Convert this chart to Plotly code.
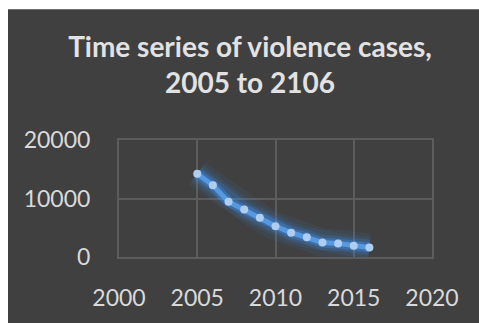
import plotly.graph_objects as go

years = [2005, 2006, 2007, 2008, 2009, 2010, 2011, 2012, 2013, 2014, 2015, 2016]
cases = [14250, 12250, 9450, 8100, 6720, 5250, 4150, 3380, 2480, 2320, 1920, 1620]

x_ticks = [2000, 2005, 2010, 2015, 2020]
y_ticks = [0, 10000, 20000]

W, H = 479, 323
L, R, T, B = 119, 47, 140, 64
pw, ph = W - L - R, H - T - B

BG = "#404040"
GRID = "#5c5c5c"
TXT = "#d9d9d9"
FONT = "Lato, Carlito, Calibri, sans-serif"

fig = go.Figure()

# glow layers
for w, a in [(28, 0.07), (21, 0.11), (15, 0.18), (10, 0.32)]:
    fig.add_trace(go.Scatter(x=years, y=cases, mode="lines",
                             line=dict(color=f"rgba(60,150,250,{a})", width=w),
                             hoverinfo="skip", showlegend=False))
fig.add_trace(go.Scatter(x=years, y=cases, mode="lines+markers",
                         line=dict(color="#5599e2", width=5),
                         marker=dict(color="#aecdf1", size=8, line=dict(width=0)),
                         showlegend=False))

# white strips at top and left, like the reference crop
fig.add_shape(type="rect", xref="paper", yref="paper",
              x0=-L / pw - 0.05, x1=(8 - L) / pw, y0=-(B + 10) / ph, y1=(H - B + 10) / ph,
              fillcolor="white", line=dict(width=0), layer="above")
fig.add_shape(type="rect", xref="paper", yref="paper",
              x0=-L / pw - 0.05, x1=(W + 10 - L) / pw, y0=(H - B - 7) / ph, y1=(H - B + 10) / ph,
              fillcolor="white", line=dict(width=0), layer="above")

axis_common = dict(showgrid=True, gridcolor=GRID, gridwidth=2, zeroline=False,
                   showline=True, linecolor=GRID, linewidth=2, mirror=True,
                   ticks="outside", tickcolor="rgba(0,0,0,0)",
                   tickfont=dict(family=FONT, size=23, color=TXT), fixedrange=True)

fig.update_layout(
    width=W, height=H,
    margin=dict(l=L, r=R, t=T, b=B, pad=0),
    paper_bgcolor=BG,
    plot_bgcolor=BG,
    font=dict(family=FONT, color=TXT, size=23),
    title=dict(text="<b>Time series of violence cases,<br>2005 to 2106</b>",
               x=250 / W, xanchor="center", y=1 - 57 / H, yanchor="top",
               font=dict(family=FONT, size=28, color="#e2e2e2")),
    xaxis=dict(range=[2000, 2020], tickvals=x_ticks, ticktext=[str(v) for v in x_ticks],
               ticklen=19, **axis_common),
    yaxis=dict(range=[0, 20000], tickvals=y_ticks, ticktext=[str(v) for v in y_ticks],
               ticklen=22, **axis_common),
)

fig.write_html("out.html", config={"displayModeBar": False})
